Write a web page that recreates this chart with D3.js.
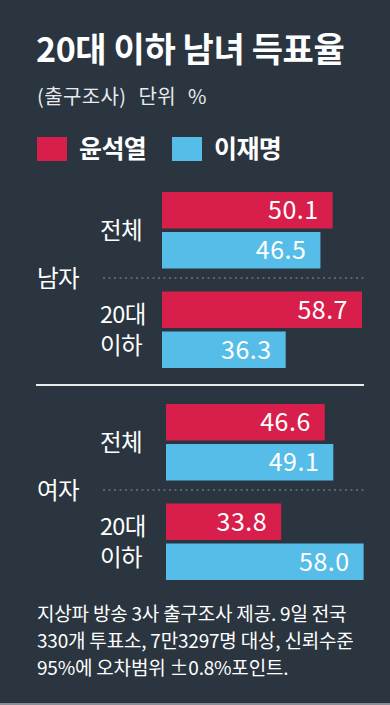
<!DOCTYPE html>
<html><head><meta charset="utf-8">
<script src="https://cdn.jsdelivr.net/npm/d3@7"></script>
<style>
html,body{margin:0;padding:0;background:#2a3540;}
svg{display:block;}
text{font-family:"Noto Sans CJK KR","Noto Sans",sans-serif;}
</style></head>
<body>
<svg id="chart" width="390" height="705"></svg>
<script>
const title = "20대 이하 남녀 득표율";
const subtitle = "(출구조사) 단위 %";
const seriesNames = ["윤석열", "이재명"];
const seriesColors = ["#d81f4b", "#56bde9"];
const genders = ["남자", "여자"];
const groups = ["전체", "20대\n이하"];
const yoonValues = [[50.1, 58.7], [46.6, 33.8]];
const leeValues = [[46.5, 36.3], [49.1, 58.0]];
const footnote = ["지상파 방송 3사 출구조사 제공. 9일 전국",
                  "330개 투표소, 7만3297명 대상, 신뢰수준",
                  "95%에 오차범위 ±0.8%포인트."];

const svg = d3.select("#chart");
const W = 390, H = 705;
svg.append("rect").attr("width", W).attr("height", H).attr("fill", "#2a3540");
svg.append("rect").attr("x", 0).attr("y", 703).attr("width", W).attr("height", 2).attr("fill", "#8a8f96");

svg.append("text").attr("x", 36).attr("y", 62).attr("fill", "#fff")
  .attr("font-size", 34).attr("font-weight", 700).attr("letter-spacing", -0.4).text(title);
svg.append("text").attr("x", 37).attr("y", 104).attr("fill", "#e8eaec")
  .attr("font-size", 20).attr("letter-spacing", 0.4).attr("word-spacing", 7).text(subtitle);

// legend
const legX = [37, 172];
seriesNames.forEach((n, i) => {
  svg.append("rect").attr("x", legX[i]).attr("y", 137).attr("width", 30).attr("height", 24).attr("fill", seriesColors[i]);
  svg.append("text").attr("x", legX[i] + 42).attr("y", 158).attr("fill", "#fff")
    .attr("font-size", 25).attr("font-weight", 700).attr("letter-spacing", -0.6).text(n);
});

// bars
const x = d3.scaleLinear().domain([0, 58.7]).range([0, 200]);
const genderTop = [192, 404];
const genderX0 = [162, 166];
const bandStep = [0, 99.5];   // group offset within a gender
const barH = 36.5, barGap = 3.5;

genders.forEach((g, gi) => {
  const gEl = svg.append("g");
  const top = genderTop[gi];
  const x0 = genderX0[gi];
  groups.forEach((grp, ci) => {
    const vals = [yoonValues[gi][ci], leeValues[gi][ci]];
    const by = top + bandStep[ci];
    vals.forEach((v, si) => {
      const y = by + si * (barH + barGap);
      gEl.append("rect").attr("x", x0).attr("y", y).attr("width", x(v)).attr("height", barH)
        .attr("fill", seriesColors[si]);
      gEl.append("text").attr("x", x0 + x(v) - 14).attr("y", y + barH / 2 + 9)
        .attr("text-anchor", "end").attr("fill", "#fff")
        .attr("font-family", "Roboto, sans-serif").attr("font-size", 25)
        .attr("letter-spacing", 0.5)
        .text(d3.format(".1f")(v));
    });
    // category label
    const lines = grp.split("\n");
    const cy = by + barH + barGap / 2;
    lines.forEach((ln, li) => {
      const ly = cy + (li - (lines.length - 1) / 2) * 31 + 8.5;
      gEl.append("text").attr("x", 100).attr("y", ly).attr("fill", "#fff")
        .attr("font-size", 23.5).attr("letter-spacing", -0.7).text(ln);
    });
  });
  // dotted separator
  const sepY = top + 86;
  gEl.append("line").attr("x1", 103).attr("x2", 364).attr("y1", sepY).attr("y2", sepY)
    .attr("stroke", "#8a949e").attr("stroke-width", 1).attr("stroke-dasharray", "2,3.5");
  gEl.append("text").attr("x", 37).attr("y", sepY + 8.5).attr("fill", "#fff")
    .attr("font-size", 23.5).attr("letter-spacing", -0.7).text(g);
});

// solid separator between genders
svg.append("line").attr("x1", 36).attr("x2", 364).attr("y1", 385).attr("y2", 385)
  .attr("stroke", "#e8eaec").attr("stroke-width", 2);

// footnote
footnote.forEach((t, i) => {
  svg.append("text").attr("x", 37).attr("y", 621 + i * 27).attr("fill", "#fff")
    .attr("font-size", 19).attr("letter-spacing", -0.2).text(t);
});
</script>
</body></html>
